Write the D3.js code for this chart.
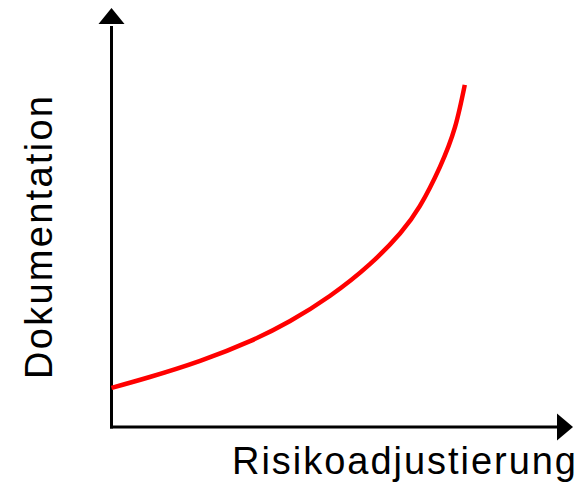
<!DOCTYPE html>
<html>
<head>
<meta charset="utf-8">
<script src="https://cdn.jsdelivr.net/npm/d3@7"></script>
<style>
  html, body { margin: 0; padding: 0; background: #fff; }
  svg { display: block; }
</style>
</head>
<body>
<script>
// Data (abstract units, 0..100 on both axes)
const curveX = [0, 8.6, 19.9, 31.1, 40.1, 49.0, 58.0, 64.8, 69.2, 73.7, 77.1, 79.3];
const curveY = [9.7, 12.4, 16.4, 21.3, 26.3, 32.5, 40.4, 48.1, 54.8, 64.5, 74.4, 84.9];
const xLabel = "Risikoadjustierung";
const yLabel = "Dokumentation";

const W = 583, H = 486;
const svg = d3.select("body").append("svg").attr("width", W).attr("height", H);

const x = d3.scaleLinear().domain([0, 100]).range([111.5, 557]);
const y = d3.scaleLinear().domain([0, 100]).range([427, 24]);

// Axes
svg.append("line")
  .attr("x1", x(0)).attr("x2", x(0))
  .attr("y1", y(0) + 1.5).attr("y2", y(100) + 2)
  .attr("stroke", "#000").attr("stroke-width", 3);
svg.append("line")
  .attr("x1", x(0) - 1.5).attr("x2", x(100) + 2)
  .attr("y1", y(0)).attr("y2", y(0))
  .attr("stroke", "#000").attr("stroke-width", 3);

// Arrowheads
svg.append("path")
  .attr("d", `M${x(0)},8 L${x(0) - 13},${y(100)} L${x(0) + 13},${y(100)} Z`)
  .attr("fill", "#000");
svg.append("path")
  .attr("d", `M573,${y(0)} L${x(100)},${y(0) - 13.5} L${x(100)},${y(0) + 13.5} Z`)
  .attr("fill", "#000");

// Curve
const pts = curveX.map((d, i) => [d, curveY[i]]);
const line = d3.line().x(d => x(d[0])).y(d => y(d[1])).curve(d3.curveNatural);
svg.append("path")
  .attr("d", line(pts))
  .attr("fill", "none")
  .attr("stroke", "#ff0000")
  .attr("stroke-width", 4.5);

// Labels
svg.append("text")
  .attr("x", 232).attr("y", 474)
  .attr("font-family", "'Liberation Sans', Arial, sans-serif")
  .attr("font-size", 38)
  .attr("textLength", 344)
  .attr("fill", "#000")
  .text(xLabel);

svg.append("text")
  .attr("transform", "translate(52,379) rotate(-90)")
  .attr("font-family", "'Liberation Sans', Arial, sans-serif")
  .attr("font-size", 38)
  .attr("textLength", 283)
  .attr("fill", "#000")
  .text(yLabel);
</script>
</body>
</html>
